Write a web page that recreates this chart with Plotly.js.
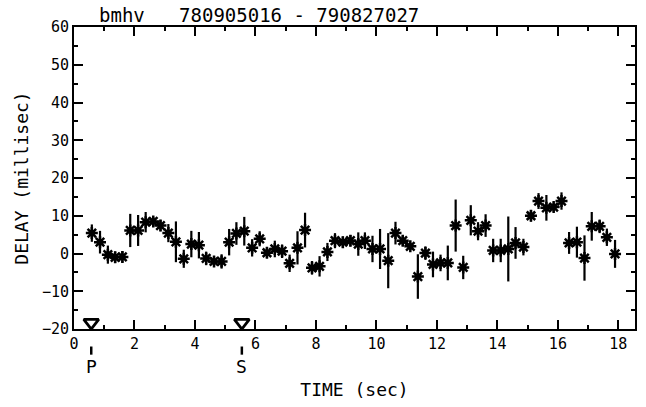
<!DOCTYPE html>
<html>
<head>
<meta charset="utf-8">
<script src="https://cdn.plot.ly/plotly-3.0.1.min.js"></script>
<style>html,body{margin:0;padding:0;background:#fff;}#chart{width:646px;height:407px;}</style>
</head>
<body>
<div id="chart"></div>
<script>
// Data
const timeSec = [0.59,0.86,1.12,1.36,1.60,1.86,2.12,2.37,2.62,2.86,3.12,3.37,3.63,3.88,4.13,4.37,4.63,4.88,5.13,5.37,5.63,5.89,6.14,6.38,6.64,6.88,7.13,7.39,7.64,7.87,8.12,8.38,8.63,8.89,9.14,9.40,
  9.62,9.87,10.12,10.39,10.63,10.87,11.12,11.37,11.62,11.87,12.12,12.36,12.62,12.87,13.12,13.36,13.61,13.86,14.11,14.36,14.60,14.86,15.11,15.36,15.62,15.86,16.12,16.37,16.63,16.88,17.12,17.38,17.62,17.89];
const delayMs = [5.4,3.0,-0.3,-1.0,-0.9,6.1,6.1,8.3,8.5,7.4,5.4,3.1,-1.4,2.5,2.2,-1.3,-2.1,-2.1,3.0,5.3,5.9,1.5,3.9,0.2,1.2,0.6,-2.6,1.5,6.2,-3.8,-3.4,0.4,3.4,3.0,3.4,2.5,
  3.4,1.2,1.2,-1.9,5.4,3.4,1.9,-6.1,0.1,-2.9,-2.5,-2.5,7.4,-3.7,8.8,5.9,7.4,0.8,0.8,1.2,2.8,1.7,10.0,13.9,12.1,12.3,13.9,2.8,3.0,-1.2,7.2,7.2,4.3,-0.1];
const delayErr = [2.3,3.0,2.4,1.5,1.5,4.4,4.1,2.7,1.2,1.5,2.4,5.4,2.4,3.5,3.5,1.8,1.3,1.9,3.5,3.0,3.8,2.3,2.0,1.4,2.2,1.8,2.3,4.4,4.6,1.8,2.7,2.4,2.0,1.5,1.5,3.1,
  2.2,3.5,5.3,7.3,3.0,1.3,1.0,5.9,1.8,3.4,2.2,4.6,6.9,3.1,4.0,2.4,3.0,3.1,3.1,8.6,4.2,2.2,1.5,2.1,3.4,1.2,2.3,2.9,4.1,6.0,3.8,1.8,2.3,3.7];
const phaseTimes = [0.57, 5.55];
const phaseLevel = [-18.3, -18.3];
const phaseLabels = ['P', 'S'];
const titleText = 'bmhv   780905016 - 790827027';

const font = 'DejaVu Sans Mono, monospace';

const traces = [
  {
    x: timeSec, y: delayMs, type: 'scatter', mode: 'markers',
    error_y: {type: 'data', array: delayErr, visible: true, color: '#000', thickness: 2.2, width: 0},
    marker: {symbol: 'asterisk-open', size: 10, color: '#000', line: {color: '#000', width: 2.5}},
    hoverinfo: 'skip'
  },
  {
    x: timeSec, y: delayMs, type: 'scatter', mode: 'markers',
    marker: {symbol: 'circle', size: 4, color: '#000'},
    hoverinfo: 'skip'
  },
  {
    x: phaseTimes, y: phaseLevel, type: 'scatter', mode: 'markers',
    marker: {symbol: 'triangle-down-open', size: 13, color: '#000', line: {color: '#000', width: 2.8}},
    hoverinfo: 'skip'
  }
];

const shapes = phaseTimes.map(t => ({
  type: 'line', xref: 'x', yref: 'paper', x0: t, x1: t, y0: -0.058, y1: -0.085,
  line: {color: '#000', width: 2.5}
}));

const annotations = phaseLabels.map((lab, i) => ({
  x: phaseTimes[i], xref: 'x', y: -0.125, yref: 'paper', text: lab, showarrow: false,
  font: {family: font, size: 18, color: '#000'}, xanchor: 'center', yanchor: 'middle'
}));

const layout = {
  width: 646, height: 407,
  margin: {l: 74, r: 11, t: 27, b: 78, pad: 0},
  paper_bgcolor: '#fff', plot_bgcolor: '#fff',
  showlegend: false,
  font: {family: font, color: '#000', size: 15},
  title: {text: titleText, x: 99/646, xanchor: 'left', y: 1 - 15/407, yanchor: 'middle',
    font: {family: font, size: 19, color: '#000'}},
  xaxis: {
    range: [0, 18.55], dtick: 2, tick0: 0, ticks: 'inside', ticklen: 9, tickwidth: 2, tickcolor: '#000',
    showline: true, linewidth: 2, linecolor: '#000', mirror: 'ticks', showgrid: false, zeroline: false,
    minor: {dtick: 1, tick0: 0, ticks: 'inside', ticklen: 4, tickwidth: 2, tickcolor: '#000', showgrid: false},
    tickfont: {family: font, size: 15, color: '#000'},
    title: {text: 'TIME (sec)', font: {family: font, size: 18, color: '#000'}, standoff: 31}
  },
  yaxis: {
    range: [-20, 60], dtick: 10, tick0: 0, ticks: 'inside', ticklen: 9, tickwidth: 2, tickcolor: '#000',
    showline: true, linewidth: 2, linecolor: '#000', mirror: 'ticks', showgrid: false, zeroline: false,
    minor: {dtick: 5, tick0: 0, ticks: 'inside', ticklen: 4, tickwidth: 2, tickcolor: '#000', showgrid: false},
    tickfont: {family: font, size: 15, color: '#000'},
    title: {text: 'DELAY (millisec)', font: {family: font, size: 18, color: '#000'}, standoff: 9}
  },
  shapes: shapes,
  annotations: annotations
};

Plotly.newPlot('chart', traces, layout, {displayModeBar: false, staticPlot: true});
</script>
</body>
</html>
